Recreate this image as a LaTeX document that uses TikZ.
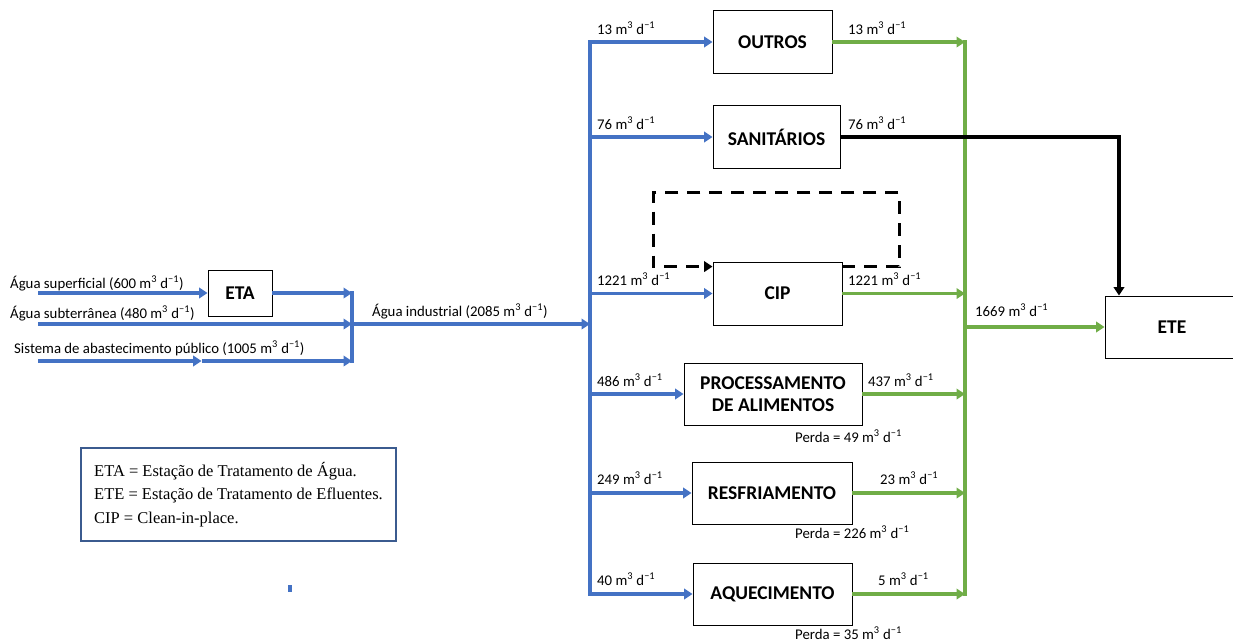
\documentclass[tikz,border=0pt]{standalone}
\usepackage{fontspec}
\setmainfont{Carlito}
\newfontfamily\legendfont{Liberation Serif}
\usetikzlibrary{arrows.meta,positioning}
\definecolor{azul}{HTML}{4472C4}
\definecolor{verde}{HTML}{70AD47}
\definecolor{moldura}{HTML}{3B5B8F}
\newcommand{\mcd}{m\textsuperscript{3} d\textsuperscript{\textminus1}}

\begin{document}
\begin{tikzpicture}[x=1pt,y=-1pt,>={Triangle[length=8.5pt,width=10.5pt]},
  unidade/.style={draw,line width=0.9pt,fill=white,inner sep=0pt,align=center,font=\fontsize{19.5}{22}\selectfont\bfseries},
  entrada/.style={->,draw=azul,line width=3.2pt},
  saida/.style={->,draw=verde,line width=3.2pt},
  esgoto/.style={->,draw=black,line width=3.2pt},
  recirc/.style={->,draw=black,line width=3.4pt,dash pattern=on 13pt off 9pt},
  vazao/.style={font=\fontsize{14.8}{16}\selectfont,inner sep=0pt,anchor=base west}]
  \useasboundingbox (0,0) rectangle (1233,641);

  % fontes de agua
  \coordinate (s1) at (38,293);
  \coordinate (s2) at (38,324);
  \coordinate (s3) at (38,361);
  \coordinate (jn) at (352,324);
  \coordinate (azulbus) at (590,0);
  \coordinate (verdebus) at (965,0);
  \coordinate (queda) at (1119,0);

  \node[unidade,minimum width=64,minimum height=46] (eta) at (240,293) {ETA};
  \node[vazao] (f1) at (10,288) {Água superficial (600 \mcd)};
  \node[vazao] (f2) at (10,318) {Água subterrânea (480 \mcd)};
  \node[vazao] (f3) at (14,353) {Sistema de abastecimento público (1005 \mcd)};

  \draw[entrada] (s1) -- (eta.west);
  \draw[entrada] (eta.east) -- (eta.east -| jn);
  \draw[entrada] (s2) -- (jn);
  \draw[entrada] (s3) -- ([xshift=-6pt]s3 -| eta.west);
  \draw[entrada] ([xshift=-6pt]s3 -| eta.west) -- (s3 -| jn);
  \draw[azul,line width=3.2pt] ([yshift=1.6pt]eta.east -| jn) -- ([yshift=-1.6pt]s3 -| jn);
  \draw[entrada] (jn) -- (jn -| azulbus);
  \node[vazao] (ind) at (372,316) {Água industrial (2085 \mcd)};

  % unidades de consumo
  \node[unidade,minimum width=119,minimum height=63] (outros) at (772.5,42) {OUTROS};
  \node[unidade,minimum width=127,minimum height=63] (sanit) at (776.5,137) {SANITÁRIOS};
  \node[unidade,minimum width=129,minimum height=63] (cip) at (777.5,293.5) {CIP};
  \node[unidade,minimum width=178,minimum height=62] (proc) at (773,394) {PROCESSAMENTO\\DE ALIMENTOS};
  \node[unidade,minimum width=160,minimum height=62] (resf) at (772,493) {RESFRIAMENTO};
  \node[unidade,minimum width=159,minimum height=62] (aquec) at (772.5,594) {AQUECIMENTO};
  \node[unidade,minimum width=134,minimum height=62] (ete) at (1172,327) {ETE};

  \draw[azul,line width=3.2pt] ([yshift=1.6pt]outros.west -| azulbus) -- ([yshift=-1.6pt]aquec.west -| azulbus);
  \foreach \u in {outros,sanit,cip,proc,resf,aquec}
    \draw[entrada] (\u.west -| azulbus) -- (\u.west);
  \node[vazao] (e1) at (597,34) {13 \mcd};
  \node[vazao] (e2) at (597,129) {76 \mcd};
  \node[vazao] (e3) at (597,285) {1221 \mcd};
  \node[vazao] (e4) at (597,386) {486 \mcd};
  \node[vazao] (e5) at (597,484) {249 \mcd};
  \node[vazao] (e6) at (597,585) {40 \mcd};

  \draw[verde,line width=3.2pt] ([yshift=1.6pt]outros.east -| verdebus) -- ([yshift=-1.6pt]aquec.east -| verdebus);
  \foreach \u in {outros,cip,proc,resf,aquec}
    \draw[saida] (\u.east) -- (\u.east -| verdebus);
  \draw[saida] (ete.west -| verdebus) -- (ete.west);
  \node[vazao] (d1) at (848,34) {13 \mcd};
  \node[vazao] (d2) at (848,129) {76 \mcd};
  \node[vazao] (d3) at (848,285) {1221 \mcd};
  \node[vazao] (d4) at (868,386) {437 \mcd};
  \node[vazao] (d5) at (880,484) {23 \mcd};
  \node[vazao] (d6) at (878,585) {5 \mcd};
  \node[vazao] (tot) at (975,316) {1669 \mcd};

  \node[vazao] (p1) at (795,442) {Perda = 49 \mcd};
  \node[vazao] (p2) at (795,538) {Perda = 226 \mcd};
  \node[vazao] (p3) at (795,639) {Perda = 35 \mcd};

  \draw[esgoto] (sanit.east) -| (queda |- ete.north);
  \draw[recirc] ([yshift=-5pt]cip.north east) -- ++(57,0) -- ++(0,-74) -| ++(-246,74) -- ([yshift=-5pt]cip.north west);

  % legenda
  \node[draw=moldura,line width=2pt,anchor=north west,minimum width=315,minimum height=93,
        align=left,inner xsep=5pt,
        font=\legendfont\fontsize{16.5}{23.3}\selectfont] (legenda) at (80,447)
    {ETA = Estação de Tratamento de Água.\\ETE = Estação de Tratamento de Efluentes.\\CIP = Clean-in-place.};
  \fill[azul] (288,585) rectangle (292,592);
\end{tikzpicture}
\end{document}
